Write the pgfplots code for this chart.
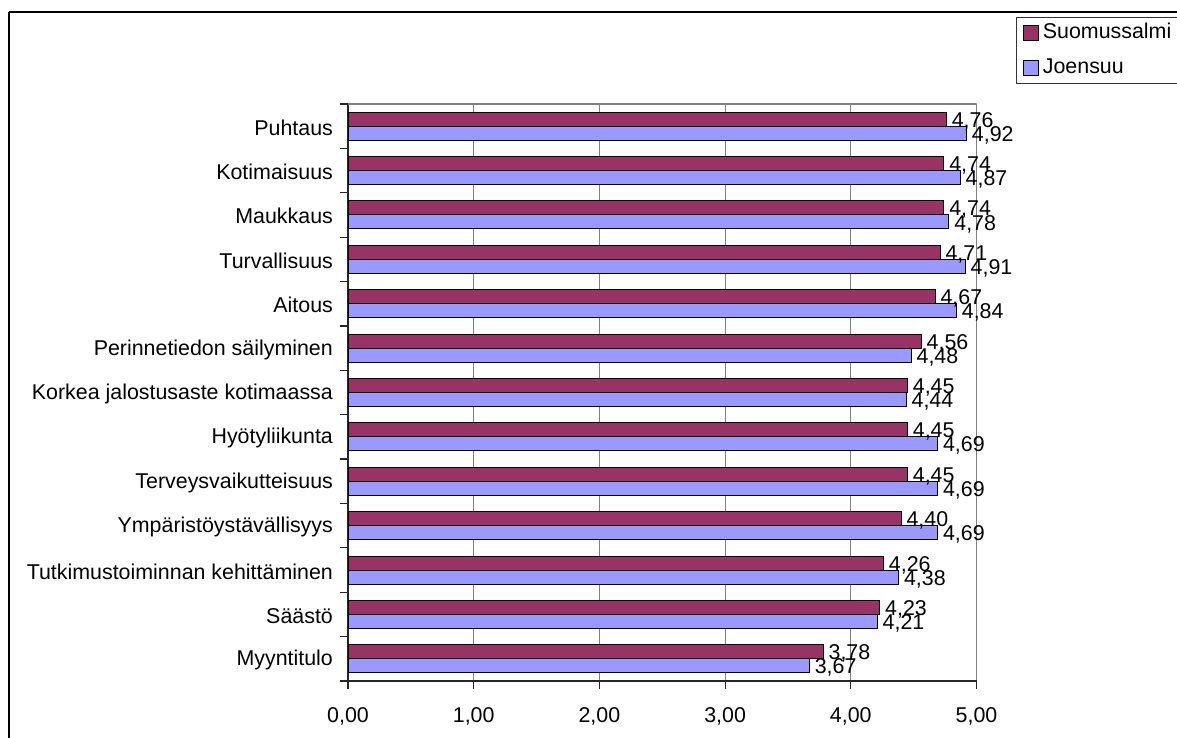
\documentclass[border=0pt]{standalone}
\usepackage{pgfplots}
\pgfplotsset{compat=1.18}
\usepackage{fontspec}
\setmainfont{Liberation Sans}

\definecolor{suomu}{HTML}{993366}
\definecolor{joens}{HTML}{9999FF}
\definecolor{gridgray}{HTML}{808080}

\newcommand{\chartfont}{\fontsize{10.7}{12.5}\selectfont}

\begin{document}
\begin{tikzpicture}[x=0.5pt,y=0.5pt]
\chartfont
% outer chart frame
\draw[line width=0.8pt] (9,726) -- (9,-40);
\draw[line width=0.8pt] (9,726) -- (1300,726);

\begin{axis}[
  at={(174pt,28.5pt)}, anchor=south west,
  scale only axis, width=314.25pt, height=288.5pt,
  xbar, xmin=0, xmax=5, ymin=-0.5, ymax=12.5,
  axis lines*=left,
  axis line style={line width=0.6pt, black!85},
  xtick={0,1,2,3,4,5},
  xmajorgrids, major grid style={gridgray, line width=0.6pt},
  % ticks sit on the category boundaries, names are lifted to the band centres
  ytick={-0.5,0.5,...,12.5},
  yticklabels={Myyntitulo,Säästö,Tutkimustoiminnan kehittäminen,Ympäristöystävällisyys,Terveysvaikutteisuus,Hyötyliikunta,Korkea jalostusaste kotimaassa,Perinnetiedon säilyminen,Aitous,Turvallisuus,Maukkaus,Kotimaisuus,Puhtaus,{}},
  yticklabel style={yshift=10.4pt, xshift=0pt},
  tick align=outside,
  major tick length=3.8pt,
  tick style={line width=0.6pt, black!85},
  /pgf/number format/assume math mode=true,
  xticklabel style={yshift=-5.5pt, /pgf/number format/.cd, fixed, fixed zerofill, precision=2, use comma},
  ticklabel style={font=\chartfont},
  bar width=0.315,
  nodes near coords,
  every node near coord/.append style={anchor=west, inner sep=0pt, xshift=2.5pt, yshift=-1.0pt, font=\chartfont, black},
  nodes near coords style={/pgf/number format/.cd, fixed, fixed zerofill, precision=2, use comma, assume math mode=true},
  legend style={at={(1.0628,1.1508)}, anchor=north west, draw=black!80, line width=0.5pt,
    font=\chartfont, inner xsep=3.5pt, inner ysep=1pt, row sep=4.5pt,
    /tikz/every even column/.append style={column sep=3.5pt}},
  legend cell align=left,
  legend image code/.code={\draw[#1] (0pt,-3.6pt) rectangle (7.2pt,3.6pt);},
]
\addplot[fill=suomu, draw=black, line width=0.5pt, bar shift=0.1575] coordinates {
  (3.78,0) (4.23,1) (4.26,2) (4.40,3) (4.45,4) (4.45,5) (4.45,6)
  (4.56,7) (4.67,8) (4.71,9) (4.74,10) (4.74,11) (4.76,12)};
\addlegendentry{Suomussalmi}
\addplot[fill=joens, draw=black, line width=0.5pt, bar shift=-0.1575] coordinates {
  (3.67,0) (4.21,1) (4.38,2) (4.69,3) (4.69,4) (4.69,5) (4.44,6)
  (4.48,7) (4.84,8) (4.91,9) (4.78,10) (4.87,11) (4.92,12)};
\addlegendentry{Joensuu}
\draw[gridgray, line width=0.6pt] (rel axis cs:0,1) -- (rel axis cs:1,1);
\end{axis}

\pgfresetboundingbox
\useasboundingbox (0,0) rectangle (1177,738);
\end{tikzpicture}
\end{document}
